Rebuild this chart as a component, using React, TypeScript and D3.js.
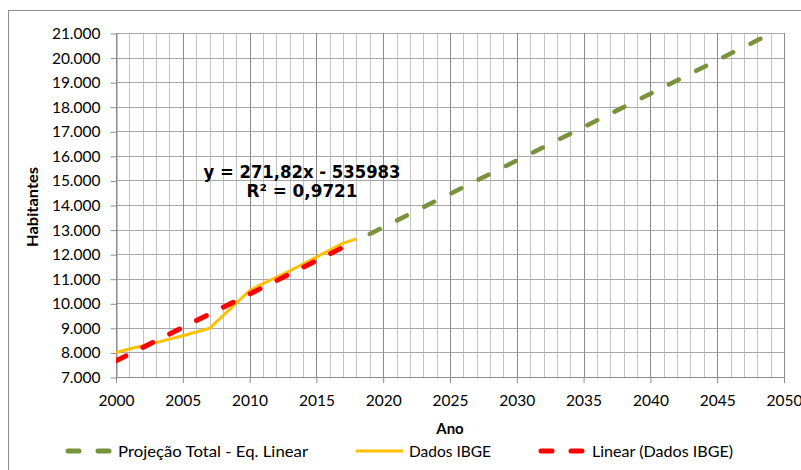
import { useEffect, useRef } from "react";
import * as d3 from "d3";

// dados IBGE
const anosIBGE = [2000, 2001, 2002, 2003, 2004, 2005, 2006, 2007, 2010, 2011, 2012, 2013, 2014, 2015, 2016, 2017, 2018];
const popIBGE = [8000, 8140, 8270, 8400, 8540, 8680, 8830, 8980, 10520, 10800, 11060, 11320, 11600, 11880, 12170, 12450, 12620];

// linha de tendência linear (Dados IBGE)
const anosTendencia = [2000, 2018];
const popTendencia = [7657, 12550];

// projeção total - eq. linear
const anosProjecao = [2019, 2020, 2025, 2030, 2035, 2040, 2045, 2050];
const popProjecao = [12821, 13093, 14452, 15811, 17170, 18529, 19888, 21247];

const ticksAno = [2000, 2005, 2010, 2015, 2020, 2025, 2030, 2035, 2040, 2045, 2050];
const ticksPop = [7000, 8000, 9000, 10000, 11000, 12000, 13000, 14000, 15000, 16000, 17000, 18000, 19000, 20000, 21000];

const legenda = [
  { nome: "Projeção Total - Eq. Linear", cor: "#77933C", tipo: "dash" },
  { nome: "Dados IBGE", cor: "#FFC000", tipo: "solid" },
  { nome: "Linear (Dados IBGE)", cor: "#FF0000", tipo: "dash" },
];

const width = 801;
const height = 470;
const margin = { top: 33, right: 17, bottom: 93, left: 116 };
const innerWidth = width - margin.left - margin.right;
const innerHeight = height - margin.top - margin.bottom;
const fonte = "Lato, 'Open Sans', sans-serif";

const App = () => {
  const ref = useRef<SVGSVGElement>(null);

  useEffect(() => {
    const svg = d3.select(ref.current);
    svg.selectAll("*").remove();

    const x = d3.scaleLinear().domain([2000, 2050]).range([0, innerWidth]);
    const y = d3.scaleLinear().domain([7000, 21000]).range([innerHeight, 0]);

    // borda da área do gráfico
    svg.append("rect")
      .attr("x", 8.5).attr("y", 10.5)
      .attr("width", 900).attr("height", 600)
      .attr("fill", "white")
      .attr("stroke", "#8c8c8c");

    svg.append("defs").append("clipPath").attr("id", "plotClip")
      .append("rect")
      .attr("width", innerWidth).attr("height", innerHeight);

    const g = svg.append("g").attr("transform", `translate(${margin.left},${margin.top})`);

    // grade secundária (todos os anos)
    g.append("g").selectAll("line")
      .data(d3.range(2000, 2051).filter(a => a % 5 !== 0))
      .join("line")
      .attr("x1", d => Math.round(x(d)) + 0.5).attr("x2", d => Math.round(x(d)) + 0.5)
      .attr("y1", 0).attr("y2", innerHeight)
      .attr("stroke", "#c4c4c4");

    // grade horizontal
    g.append("g").selectAll("line")
      .data(ticksPop)
      .join("line")
      .attr("x1", 0).attr("x2", innerWidth)
      .attr("y1", d => Math.round(y(d)) + 0.5).attr("y2", d => Math.round(y(d)) + 0.5)
      .attr("stroke", "#a8a8a8");

    // grade principal vertical
    g.append("g").selectAll("line")
      .data(ticksAno)
      .join("line")
      .attr("x1", d => Math.round(x(d)) + 0.5).attr("x2", d => Math.round(x(d)) + 0.5)
      .attr("y1", 0).attr("y2", innerHeight)
      .attr("stroke", "#8c8c8c");

    // eixo y
    const eixoY = g.append("g")
      .call(d3.axisLeft(y).tickValues(ticksPop).tickSize(6).tickPadding(10)
        .tickFormat(d => d3.format(",")(d as number).replace(",", ".")));
    eixoY.select(".domain").attr("stroke", "#8c8c8c").attr("d", `M0.5,0V${innerHeight}`);
    eixoY.selectAll(".tick line").attr("stroke", "#8c8c8c");
    eixoY.selectAll("text").attr("font-family", fonte).attr("font-size", 15.5).attr("fill", "#000");
    eixoY.attr("transform", "translate(0.5,0.5)");

    // eixo x
    const eixoX = g.append("g")
      .attr("transform", `translate(0,${innerHeight})`)
      .call(d3.axisBottom(x).tickValues(ticksAno).tickSize(6).tickPadding(12).tickFormat(d3.format("d")));
    eixoX.select(".domain").attr("stroke", "#8c8c8c").attr("d", `M0,0.5H${innerWidth}`);
    eixoX.selectAll(".tick line").attr("stroke", "#8c8c8c");
    eixoX.selectAll("text").attr("font-family", fonte).attr("font-size", 15.5).attr("fill", "#000");

    const linha = d3.line<[number, number]>().x(d => x(d[0])).y(d => y(d[1]));
    const series = g.append("g").attr("clip-path", "url(#plotClip)");

    series.append("path")
      .datum(anosProjecao.map((a, i) => [a, popProjecao[i]] as [number, number]))
      .attr("d", linha)
      .attr("fill", "none")
      .attr("stroke", "#77933C")
      .attr("stroke-width", 4.5)
      .attr("stroke-linecap", "round")
      .attr("stroke-dasharray", "11 19.4");

    series.append("path")
      .datum(anosIBGE.map((a, i) => [a, popIBGE[i]] as [number, number]))
      .attr("d", linha)
      .attr("fill", "none")
      .attr("stroke", "#FFC000")
      .attr("stroke-width", 3)
      .attr("stroke-linejoin", "round");

    series.append("path")
      .datum(anosTendencia.map((a, i) => [a, popTendencia[i]] as [number, number]))
      .attr("d", linha)
      .attr("fill", "none")
      .attr("stroke", "#FF0000")
      .attr("stroke-width", 5)
      .attr("stroke-linecap", "round")
      .attr("stroke-dasharray", "11 19");

    // equação da tendência
    const eq = svg.append("g")
      .attr("font-family", "'DejaVu Sans', Verdana, sans-serif")
      .attr("font-weight", "bold")
      .attr("font-size", 17)
      .attr("text-anchor", "middle");
    eq.append("text").attr("x", 302).attr("y", 178).attr("textLength", 197)
      .attr("lengthAdjust", "spacingAndGlyphs").text("y = 271,82x - 535983");
    eq.append("text").attr("x", 302).attr("y", 197).attr("textLength", 111)
      .attr("lengthAdjust", "spacingAndGlyphs").text("R² = 0,9721");

    // títulos dos eixos
    svg.append("text")
      .attr("x", 450).attr("y", 434)
      .attr("text-anchor", "middle")
      .attr("font-family", fonte).attr("font-weight", "bold").attr("font-size", 15)
      .text("Ano");
    svg.append("text")
      .attr("transform", "translate(38,207) rotate(-90)")
      .attr("text-anchor", "middle")
      .attr("font-family", fonte).attr("font-weight", "bold").attr("font-size", 15)
      .attr("textLength", 80).attr("lengthAdjust", "spacingAndGlyphs")
      .text("Habitantes");

    // legenda
    const posLeg = [
      { x1: 68, x2: 110, tx: 118, w: 190 },
      { x1: 356, x2: 403, tx: 409, w: 82 },
      { x1: 541, x2: 582, tx: 592, w: 141 },
    ];
    const leg = svg.append("g").selectAll("g").data(legenda).join("g");
    leg.append("line")
      .attr("x1", (d, i) => posLeg[i].x1).attr("x2", (d, i) => posLeg[i].x2)
      .attr("y1", 451).attr("y2", 451)
      .attr("stroke", d => d.cor)
      .attr("stroke-width", d => d.tipo === "dash" ? 5 : 3)
      .attr("stroke-linecap", d => d.tipo === "dash" ? "round" : "butt")
      .attr("stroke-dasharray", d => d.tipo === "dash" ? "11 19" : null);
    leg.append("text")
      .attr("x", (d, i) => posLeg[i].tx).attr("y", 451).attr("dy", "0.35em")
      .attr("font-family", fonte).attr("font-size", 16)
      .attr("textLength", (d, i) => posLeg[i].w).attr("lengthAdjust", "spacingAndGlyphs")
      .text(d => d.nome);
  }, []);

  return (
    <svg ref={ref} width={width} height={height}
      style={{ position: "absolute", left: 0, top: 0, background: "white" }} />
  );
};

export default App;
